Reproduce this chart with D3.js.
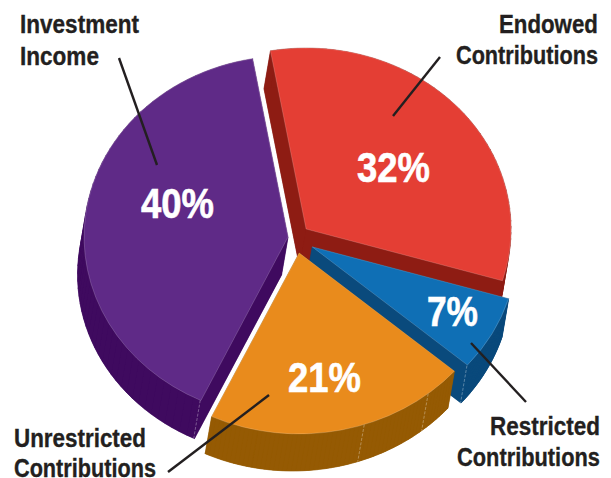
<!DOCTYPE html>
<html><head><meta charset="utf-8">
<script src="https://cdn.jsdelivr.net/npm/d3@7"></script>
<style>html,body{margin:0;padding:0;background:#fff;overflow:hidden}svg{display:block}</style>
</head><body><svg id="c" width="611" height="478"></svg>
<script>
const categories = ["Endowed Contributions","Restricted Contributions","Unrestricted Contributions","Investment Income"];
const shares = [32.4, 6.7, 20.7, 40.2];
const topColors = ["#e43e34","#0f6fb5","#e98b1c","#5f2a87"];
const wallColors = ["#8e1c13","#0a4a7c","#955a03","#3f0a5f"];
const explodes = [13.5, 18.5, 15.3, 8];
const radiiX = [205,205,205,204];
const depthsY = [38,38,37,38];
const seamDegrees = [[],[131],[141,161.5],[205.5]];
const drawOrder = [3,0,1,2];

const W=611,H=478,cx=296,cy=238,ry=181,depthX=-6.5;
const svg=d3.select("#c");
svg.append("rect").attr("width",W).attr("height",H).attr("fill","#fff");
const rad=d=>d*Math.PI/180;
const slices=d3.pie().sort(null).startAngle(rad(-10)).endAngle(rad(350))(shares);
const arcGen=d3.arc().innerRadius(0).outerRadius(1);
const line=d3.line();
slices.forEach((s,i)=>{const m=(s.startAngle+s.endAngle)/2;
  s.ax=cx+explodes[i]*Math.sin(m); s.ay=cy-explodes[i]*Math.cos(m); s.rx=radiiX[i]; s.dy=depthsY[i];});
const pt=(s,a)=>[s.ax+s.rx*Math.sin(a), s.ay-ry*Math.cos(a)];
const g=svg.append("g");
drawOrder.forEach(i=>{
  const s=slices[i];
  const angs=d3.range(0,61).map(k=>s.startAngle+(s.endAngle-s.startAngle)*k/60);
  const top=angs.map(a=>pt(s,a));
  const low=top.map(p=>[p[0]+depthX,p[1]+s.dy]);
  const A=[s.ax,s.ay],B=[s.ax+depthX,s.ay+s.dy];
  const wall=g.append("g").attr("fill",wallColors[i]).attr("stroke",wallColors[i]).attr("stroke-width",.4);
  wall.append("path").attr("d",line([B,...low])+"Z");
  wall.append("path").attr("d",line([A,B,low[0],top[0]])+"Z");
  wall.append("path").attr("d",line([A,B,low[60],top[60]])+"Z");
  for(let k=0;k<60;k++) wall.append("path").attr("d",line([top[k],top[k+1],low[k+1],low[k]])+"Z");
  seamDegrees[i].forEach(d=>{const p=pt(s,rad(d));
    g.append("path").attr("d",line([[p[0],p[1]],[p[0]+depthX,p[1]+s.dy]]))
     .attr("stroke","#fff").attr("stroke-opacity",.4).attr("stroke-width",.8).attr("stroke-dasharray","3 1.5").attr("fill","none");});
  g.append("path").attr("d",arcGen({startAngle:s.startAngle,endAngle:s.endAngle}))
   .attr("transform",`translate(${s.ax},${s.ay}) scale(${s.rx},${ry})`)
   .attr("fill",topColors[i]).attr("stroke","#fff").attr("stroke-opacity",.3)
   .attr("stroke-width",.6).attr("vector-effect","non-scaling-stroke");
});
const font='"Liberation Sans",Arial,sans-serif';
const labels=[
 ["Investment",20,33,119],["Income",20,65,79],
 ["Endowed",499,33,99],["Contributions",456,64,142],
 ["Restricted",490,435,110],["Contributions",457,466,143],
 ["Unrestricted",14,447,132],["Contributions",14,477,142]];
const pcts=[["32%",357,182,73],["7%",427,326,51],["21%",288,392,73],["40%",141,218,73]];
function place(sel,size,color,sw){
  sel.text(d=>d[0]).attr("font-family",font).attr("font-weight",700).attr("font-size",size)
   .attr("fill",color).attr("stroke",color).attr("stroke-width",sw)
   .attr("transform",function(d){const k=d[3]/this.getComputedTextLength();return `translate(${d[1]},${d[2]}) scale(${k},1)`;});
}
place(svg.append("g").selectAll("text").data(labels).join("text"),26,"#231f20",.35);
place(svg.append("g").selectAll("text").data(pcts).join("text"),42,"#fff",.6);
const leaders=[[[119,58],[157,165]],[[440,57],[393,116]],[[471,343],[526,402]],[[269,395],[168,472]]];
svg.append("g").selectAll("path").data(leaders).join("path").attr("d",d=>line(d))
 .attr("stroke","#231f20").attr("stroke-width",2.4).attr("fill","none");
</script></body></html>
